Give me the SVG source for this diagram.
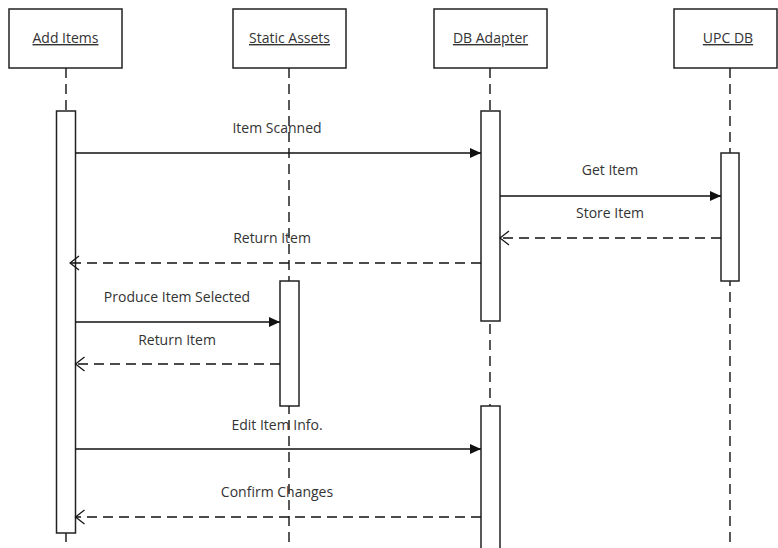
<svg xmlns="http://www.w3.org/2000/svg" width="778" height="548" viewBox="0 0 778 548">
<style>
.box{fill:#fff;stroke:#222;stroke-width:1.5}
.act{fill:#fff;stroke:#222;stroke-width:1.5}
.life{stroke:#222;stroke-width:1.5;stroke-dasharray:10 6;fill:none}
.msg{stroke:#111;stroke-width:1.5;fill:none}
.ret{stroke:#111;stroke-width:1.5;fill:none;stroke-dasharray:10 6}
.hd{font-family:"Open Sans","Noto Sans",sans-serif;font-size:14px;fill:#333;text-anchor:middle;text-decoration:underline}
.lbl{font-family:"Open Sans","Noto Sans",sans-serif;font-size:14px;fill:#333;text-anchor:middle}
</style>
<defs>
<marker id="filled" markerWidth="12" markerHeight="10" refX="11" refY="5" orient="auto" markerUnits="userSpaceOnUse">
<path d="M0,0 L11,5 L0,10 Z" fill="#111"/>
</marker>
<marker id="open" markerWidth="12" markerHeight="16" refX="10" refY="8" orient="auto" markerUnits="userSpaceOnUse">
<path d="M1,1 L10,8 L1,15" fill="none" stroke="#111" stroke-width="1.2"/>
</marker>
</defs>
<g id="lifelines">
<line class="life" x1="66" y1="68" x2="66" y2="548"/>
<line class="life" x1="289" y1="68" x2="289" y2="548"/>
<line class="life" x1="490" y1="68" x2="490" y2="548"/>
<line class="life" x1="730" y1="68" x2="730" y2="548"/>
</g>
<g id="node-add-items">
<rect class="box" x="9" y="9" width="113" height="59"/>
<text class="hd" x="65.5" y="43">Add Items</text>
<rect class="act" x="56.5" y="111" width="19" height="422"/>
</g>
<g id="node-static-assets">
<rect class="box" x="233" y="9" width="113" height="59"/>
<text class="hd" x="289.5" y="43">Static Assets</text>
<rect class="act" x="280" y="281" width="19" height="125"/>
</g>
<g id="node-db-adapter">
<rect class="box" x="434" y="9" width="113" height="59"/>
<text class="hd" x="490.5" y="43">DB Adapter</text>
<rect class="act" x="481" y="111" width="19" height="210"/>
<rect class="act" x="481" y="406" width="19" height="150"/>
</g>
<g id="node-upc-db">
<rect class="box" x="674" y="9" width="103" height="59"/>
<text class="hd" x="728" y="43">UPC DB</text>
<rect class="act" x="721" y="153" width="18" height="128"/>
</g>
<g id="connectors">
<line class="msg" x1="75.5" y1="153" x2="481" y2="153" marker-end="url(#filled)"/>
<text class="lbl" x="277" y="133">Item Scanned</text>
<line class="msg" x1="500" y1="196" x2="721" y2="196" marker-end="url(#filled)"/>
<text class="lbl" x="610" y="175">Get Item</text>
<line class="ret" x1="721" y1="238" x2="500" y2="238" marker-end="url(#open)"/>
<text class="lbl" x="610" y="218">Store Item</text>
<line class="ret" x1="481" y1="263" x2="70" y2="263" marker-end="url(#open)"/>
<text class="lbl" x="272" y="243">Return Item</text>
<line class="msg" x1="75.5" y1="322" x2="280" y2="322" marker-end="url(#filled)"/>
<text class="lbl" x="177" y="302">Produce Item Selected</text>
<line class="ret" x1="280" y1="364" x2="75.5" y2="364" marker-end="url(#open)"/>
<text class="lbl" x="177" y="345">Return Item</text>
<line class="msg" x1="75.5" y1="449" x2="481" y2="449" marker-end="url(#filled)"/>
<text class="lbl" x="277" y="430">Edit Item Info.</text>
<line class="ret" x1="481" y1="517" x2="75.5" y2="517" marker-end="url(#open)"/>
<text class="lbl" x="277" y="497">Confirm Changes</text>
</g>
</svg>
